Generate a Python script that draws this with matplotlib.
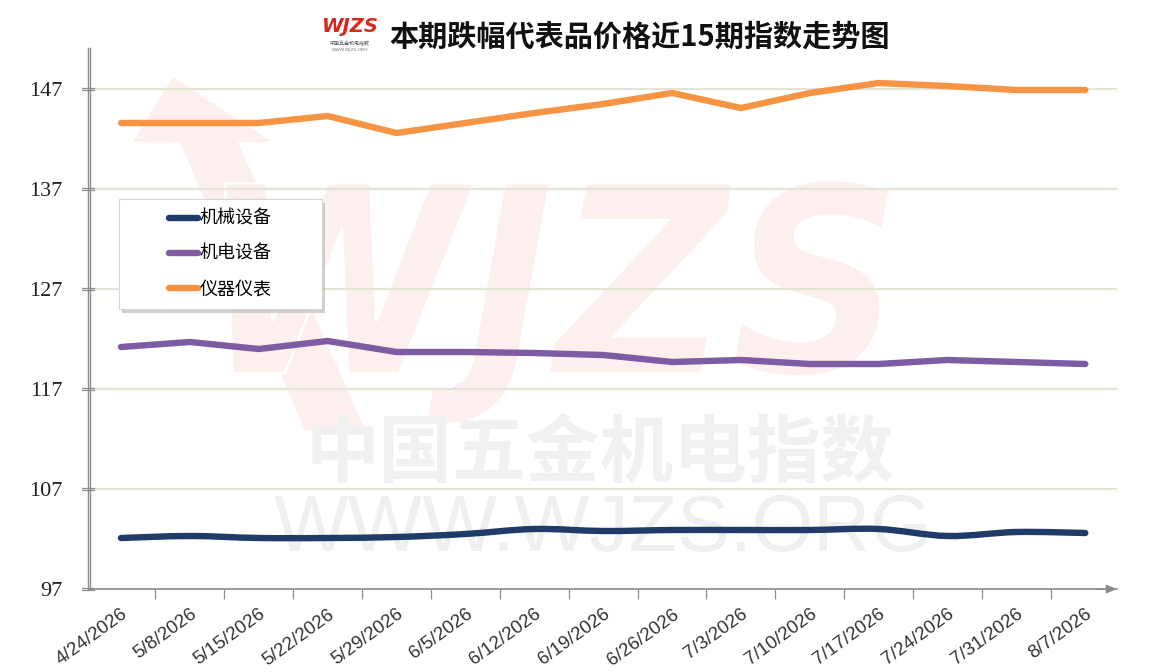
import numpy as np
import matplotlib
matplotlib.use("Agg")
import matplotlib.pyplot as plt
import matplotlib.transforms as mtrans
from matplotlib.path import Path
from matplotlib.patches import PathPatch, Rectangle, Polygon
from matplotlib.textpath import TextPath
from matplotlib.font_manager import FontProperties
from matplotlib.lines import Line2D

plt.rcParams['font.family'] = ['Noto Sans CJK SC', 'DejaVu Sans']

# data
dates = ['4/24/2026', '5/8/2026', '5/15/2026', '5/22/2026', '5/29/2026',
         '6/5/2026', '6/12/2026', '6/19/2026', '6/26/2026', '7/3/2026',
         '7/10/2026', '7/17/2026', '7/24/2026', '7/31/2026', '8/7/2026']
machinery = [102.1, 102.3, 102.1, 102.1, 102.2, 102.5, 103.0, 102.8,
             102.9, 102.9, 102.9, 103.0, 102.3, 102.7, 102.6]
electromech = [121.2, 121.7, 121.0, 121.8, 120.7, 120.7, 120.6, 120.4,
               119.7, 119.9, 119.5, 119.5, 119.9, 119.7, 119.5]
instruments = [143.6, 143.6, 143.6, 144.3, 142.6, 143.6, 144.6, 145.5,
               146.6, 145.1, 146.6, 147.6, 147.3, 146.9, 146.9]
series_names = ['机械设备', '机电设备', '仪器仪表']
yticks = [97, 107, 117, 127, 137, 147]
title = '本期跌幅代表品价格近15期指数走势图'

NAVY = '#1f3b68'
PURPLE = '#7d5ca3'
ORANGE = '#f79443'
AXIS_GRAY = '#8c8c8c'

W, H = 1161, 672
fig = plt.figure(figsize=(W / 100, H / 100), dpi=100)
AX_L, AX_R, AX_B, AX_T = 90, 1117, 589, 48
ax = fig.add_axes([AX_L / W, 1 - AX_B / H, (AX_R - AX_L) / W, (AX_B - AX_T) / H])
ax.set_facecolor('none')
AW, AH = AX_R - AX_L, AX_B - AX_T


def px(x, y):
    # pixel position (from top-left) -> display coords
    return (x, H - y)


# ---- watermark (behind the axes) ----
wm_pink = '#fcefed'
arrow = Polygon([px(173, 77), px(133, 142), px(180, 142), px(305, 430),
                 px(365, 430), px(238, 142), px(272, 142)],
                closed=True, transform=mtrans.IdentityTransform(),
                fc=wm_pink, ec='none', zorder=-6)
fig.patches.append(arrow)

tp = TextPath((0, 0), 'WJZS', size=100,
              prop=FontProperties(family='DejaVu Sans', weight='bold', style='italic'))
bb = tp.get_extents()
x0, x1, ytop, ybot = 225, 890, 180, 425
tr = (mtrans.Affine2D().translate(-bb.x0, -bb.y0)
      .scale((x1 - x0) / bb.width, (ybot - ytop) / bb.height)
      .translate(x0, H - ybot))
fig.patches.append(PathPatch(tp, transform=tr, fc=wm_pink, ec='white', lw=2,
                             zorder=-5))

fig.text(600 / W, 1 - 455 / H, '中国五金机电指数', fontsize=53, weight='bold',
         color='#f0f0f0', ha='center', va='center', zorder=-5)
fig.text(603 / W, 1 - 530 / H, 'WWW.WJZS.ORG', fontsize=57, family='Liberation Sans',
         color='#efefef', ha='center', va='center', zorder=-5)

# ---- logo + title ----
fig.text(350 / W, 1 - 27 / H, 'WJZS', color='#d42a1e', fontsize=14, weight='bold',
         style='italic', family='DejaVu Sans', ha='center', va='center')
fig.text(350 / W, 1 - 44 / H, '中国五金机电指数', color='#555555', fontsize=3.6,
         ha='center', va='center')
fig.text(350 / W, 1 - 50 / H, 'WWW.WJZS.ORG', color='#777777', fontsize=3.2,
         ha='center', va='center', family='DejaVu Sans')
fig.text(640 / W, 1 - 37 / H, title, fontsize=21, weight='bold', color='#111111',
         ha='center', va='center')

# ---- series ----
x = np.arange(len(dates))


def smooth_path(xs, ys):
    pts = np.column_stack([xs, ys]).astype(float)
    n = len(pts)
    verts, codes = [pts[0]], [Path.MOVETO]
    for i in range(n - 1):
        p0, p1 = pts[max(i - 1, 0)], pts[i]
        p2, p3 = pts[i + 1], pts[min(i + 2, n - 1)]
        verts += [p1 + (p2 - p0) / 6, p2 - (p3 - p1) / 6, p2]
        codes += [Path.CURVE4] * 3
    return Path(verts, codes)


LW = 4.6
ax.add_patch(PathPatch(smooth_path(x, machinery), fill=False, ec=NAVY, lw=LW,
                       capstyle='round', joinstyle='round', zorder=3))
ax.plot(x, electromech, color=PURPLE, lw=LW, solid_capstyle='round',
        solid_joinstyle='round', zorder=3)
ax.plot(x, instruments, color=ORANGE, lw=LW, solid_capstyle='round',
        solid_joinstyle='round', zorder=3)

ax.set_xlim(-0.45, 14.46)
ax.set_ylim(97, 97 + AH / 10)

# ---- axes styling ----
ax.grid(axis='y', color='#e4e4d6', lw=1.5)
ax.set_axisbelow(True)
for s in ('top', 'right', 'left'):
    ax.spines[s].set_visible(False)
ax.spines['bottom'].set_color(AXIS_GRAY)
ax.spines['bottom'].set_linewidth(1.2)

# double left axis line
for off in (-2, 0):
    ax.plot([off / AW, off / AW], [0, 1], transform=ax.transAxes, color=AXIS_GRAY,
            lw=1.0, clip_on=False, zorder=4)

ax.set_yticks(yticks)
ax.set_yticklabels([str(v) for v in yticks], family='Liberation Serif', fontsize=16,
                   color='#222222')
ax.tick_params(axis='y', length=0, pad=20)
blend = mtrans.blended_transform_factory(ax.transAxes, ax.transData)
for v in yticks:
    for dy in (-1.2, 1.2):
        t = blend + mtrans.ScaledTranslation(0, dy / 100, fig.dpi_scale_trans)
        ax.plot([-8 / AW, 4 / AW], [v, v], transform=t, color=AXIS_GRAY, lw=0.9,
                clip_on=False, zorder=4)

ax.set_xticks(x)
ax.set_xticklabels(dates, rotation=36, ha='right', va='top', rotation_mode='anchor',
                   family='Liberation Sans', fontsize=13.5, color='#333333')
ax.tick_params(axis='x', which='major', length=0, pad=12)
ax.set_xticks(np.arange(0.5, 14, 1), minor=True)
ax.tick_params(axis='x', which='minor', length=7, width=0.9, color=AXIS_GRAY,
               direction='out')

ax.annotate('', xy=(1.0, 0), xytext=(0.98, 0), xycoords='axes fraction',
            arrowprops=dict(arrowstyle='-|>,head_length=0.6,head_width=0.25',
                            color=AXIS_GRAY, lw=1.2, shrinkA=0, shrinkB=0),
            annotation_clip=False)

# ---- legend with drop shadow ----
bx0, bx1 = 29 / AW, 232 / AW
by0, by1 = (AX_B - 309) / AH, (AX_B - 199) / AH
ax.add_patch(Rectangle((bx0 + 3 / AW, by0 - 4 / AH), bx1 - bx0, by1 - by0,
                       transform=ax.transAxes, fc='#bdbdbd', ec='none', alpha=0.7,
                       zorder=5))
ax.add_patch(Rectangle((bx0, by0), bx1 - bx0, by1 - by0, transform=ax.transAxes,
                       fc='white', ec='#d4d4d4', lw=0.8, zorder=6))
handles = [Line2D([], [], color=c, lw=LW, solid_capstyle='round')
           for c in (NAVY, PURPLE, ORANGE)]
leg = ax.legend(handles, series_names, loc='center',
                bbox_to_anchor=((bx0 + bx1) / 2, (by0 + by1) / 2),
                frameon=False, fontsize=13, handlelength=1.6, handletextpad=0.1,
                labelspacing=0.95)
leg.set_zorder(7)

fig.savefig('out.png', dpi=100)
